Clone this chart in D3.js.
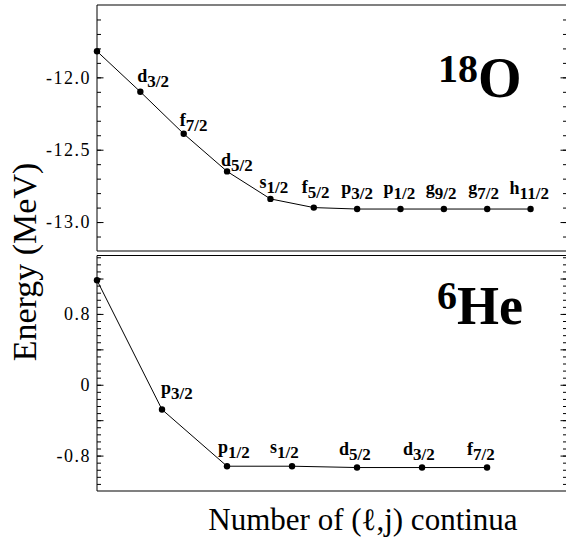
<!DOCTYPE html>
<html>
<head>
<meta charset="utf-8">
<script src="https://cdn.jsdelivr.net/npm/d3@7"></script>
<style>
    body { margin: 0; background: #fff; }
    text { font-family: "Liberation Serif", "Times New Roman", serif; }
</style>
</head>
<body>
<svg id="chart" width="566" height="538"></svg>
<script>
    // 18O: energy vs number of (l,j) continua
    var oxygenOrbit = ["", "d", "f", "d", "s", "f", "p", "p", "g", "g", "h"];
    var oxygenJ = ["", "3/2", "7/2", "5/2", "1/2", "5/2", "3/2", "1/2", "9/2", "7/2", "11/2"];
    var oxygenEnergy = [-11.82, -12.10, -12.39, -12.65, -12.84, -12.90, -12.91, -12.91, -12.91, -12.91, -12.91];
    var oxygenTicks = [-12.0, -12.5, -13.0];

    // 6He
    var heliumOrbit = ["", "p", "p", "s", "d", "d", "f"];
    var heliumJ = ["", "3/2", "1/2", "1/2", "5/2", "3/2", "7/2"];
    var heliumEnergy = [1.18, -0.28, -0.92, -0.92, -0.935, -0.935, -0.935];
    var heliumTicks = [0.8, 0, -0.8];

    var svg = d3.select("#chart");
    var left = 97, right = 567;

    function drawPanel(cfg) {
        var g = svg.append("g");

        var x = d3.scaleLinear().domain([0, cfg.xMax]).range([left, right]);
        var y = d3.scaleLinear().domain(cfg.yDomain).range([cfg.bottom, cfg.top]);

        // minor / major ticks, pointing inward on both sides
        var minor = d3.range(0, Math.round((cfg.yDomain[1] - cfg.yDomain[0]) / cfg.minorStep) + 1)
            .map(function (k) { return +(cfg.yDomain[0] + k * cfg.minorStep).toFixed(3); });
        var major = minor.filter(function (v) {
            return Math.abs(v / cfg.majorStep - Math.round(v / cfg.majorStep)) < 1e-6;
        });

        [[d3.axisLeft, left], [d3.axisRight, right]].forEach(function (a) {
            g.append("g")
                .attr("transform", "translate(" + a[1] + ",0)")
                .call(a[0](y).tickValues(minor).tickSize(-4).tickFormat(""))
                .call(function (s) { s.select(".domain").remove(); });
            g.append("g")
                .attr("transform", "translate(" + a[1] + ",0)")
                .call(a[0](y).tickValues(major).tickSize(-6.5).tickFormat(""))
                .call(function (s) { s.select(".domain").remove(); });
        });

        // tick labels
        g.append("g")
            .attr("transform", "translate(" + left + ",0)")
            .call(d3.axisLeft(y).tickValues(cfg.ticks).tickSize(0).tickPadding(6)
                .tickFormat(function (d) { return d === 0 ? "0" : d.toFixed(1); }))
            .call(function (s) {
                s.select(".domain").remove();
                s.selectAll("text")
                    .style("font-size", "18px")
                    .style("letter-spacing", "1.5px")
                    .style("font-family", "'Liberation Serif', serif")
                    .attr("fill", "#000");
            });

        // frame
        g.append("line").attr("x1", left).attr("x2", right).attr("y1", cfg.top).attr("y2", cfg.top)
            .attr("stroke", cfg.topColor).attr("stroke-width", cfg.topWidth);
        g.append("line").attr("x1", left).attr("x2", right).attr("y1", cfg.bottom).attr("y2", cfg.bottom)
            .attr("stroke", "#808080").attr("stroke-width", 2);
        g.append("line").attr("x1", left).attr("x2", left).attr("y1", cfg.top).attr("y2", cfg.bottom)
            .attr("stroke", "#000").attr("stroke-width", 1);

        var pts = cfg.energy.map(function (v, i) {
            return { i: i, v: v, orbit: cfg.orbit[i], j: cfg.j[i] };
        });

        // curve and points
        var line = d3.line()
            .x(function (d) { return x(d.i); })
            .y(function (d) { return y(d.v); });
        g.append("path").datum(pts)
            .attr("d", line).attr("fill", "none").attr("stroke", "#000").attr("stroke-width", 1);
        g.selectAll("circle").data(pts).enter().append("circle")
            .attr("cx", function (d) { return x(d.i); })
            .attr("cy", function (d) { return y(d.v); })
            .attr("r", 3.2).attr("fill", "#000");

        // state labels
        var lab = g.selectAll(".lab")
            .data(pts.filter(function (d) { return d.orbit !== ""; }))
            .enter().append("text").attr("class", "lab")
            .attr("x", function (d) { return x(d.i) + cfg.labelDx[d.i]; })
            .attr("y", function (d) { return y(d.v) + cfg.labelDy[d.i]; })
            .attr("font-weight", "bold").attr("fill", "#000");
        lab.append("tspan").attr("font-size", 18).text(function (d) { return d.orbit; });
        lab.append("tspan").attr("font-size", 17).attr("dy", 5).text(function (d) { return d.j; });

        // nucleus name
        var nuc = g.append("text").attr("x", cfg.nameX).attr("y", cfg.nameY)
            .attr("font-weight", "bold").attr("fill", "#000");
        nuc.append("tspan").attr("font-size", 40).attr("dy", -15).text(cfg.mass);
        nuc.append("tspan").attr("font-size", cfg.nameSize).attr("dy", 15).text(cfg.symbol);
    }

    drawPanel({
        top: 5, bottom: 251, xMax: 10.84, yDomain: [-13.2, -11.5],
        minorStep: 0.1, majorStep: 0.5, ticks: oxygenTicks,
        energy: oxygenEnergy, orbit: oxygenOrbit, j: oxygenJ,
        labelDx: [0, -3, -4, -6, -11, -12, -16, -17, -18, -19, -21],
        labelDy: [0, -10, -8, -5, -11, -15, -15, -15, -15, -15, -15],
        topColor: "#808080", topWidth: 2,
        nameX: 438, nameY: 97, mass: "18", symbol: "O", nameSize: 56
    });

    drawPanel({
        top: 255.5, bottom: 491, xMax: 7.23, yDomain: [-1.2, 1.46],
        minorStep: 0.08, majorStep: 0.4, ticks: heliumTicks,
        energy: heliumEnergy, orbit: heliumOrbit, j: heliumJ,
        labelDx: [0, -1, -9, -22, -18, -19, -20],
        labelDy: [0, -16, -13, -13, -13, -13, -13],
        topColor: "#000", topWidth: 1.2,
        nameX: 437, nameY: 324, mass: "6", symbol: "He", nameSize: 54
    });

    // axis titles
    svg.append("text")
        .attr("transform", "translate(36,262) rotate(-90)")
        .attr("text-anchor", "middle").attr("font-size", 34).attr("fill", "#000")
        .text("Energy (MeV)");

    svg.append("text")
        .attr("x", 363).attr("y", 530)
        .attr("text-anchor", "middle").attr("font-size", 31).attr("fill", "#000")
        .text("Number of (\u2113,j) continua");
</script>
</body>
</html>
